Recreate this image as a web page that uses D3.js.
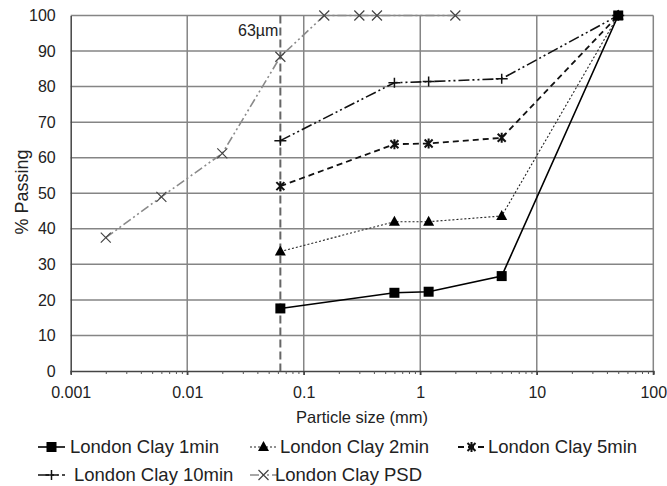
<!DOCTYPE html>
<html><head><meta charset="utf-8">
<script src="https://cdn.jsdelivr.net/npm/d3@7"></script>
<style>
html,body{margin:0;padding:0;background:#fff;}
svg{display:block;font-family:"Liberation Sans",Arial,sans-serif;}
</style></head>
<body><svg id="c" width="667" height="486"></svg>
<script>
const sizes = [0.063, 0.6, 1.18, 5, 50];
const clay1 = [17.6, 22, 22.3, 26.7, 100];
const clay2 = [33.6, 42, 42, 43.6, 100];
const clay5 = [52, 63.8, 64, 65.6, 100];
const clay10 = [64.8, 81.1, 81.4, 82.2, 100];
const psdSizes = [0.002, 0.006, 0.02, 0.063, 0.15, 0.3, 0.425, 2];
const psd = [37.5, 49, 61.2, 88.4, 100, 100, 100, 100];
const xTicks = [0.001, 0.01, 0.1, 1, 10, 100];
const yTicks = [0, 10, 20, 30, 40, 50, 60, 70, 80, 90, 100];
const seriesNames = ["London Clay 1min", "London Clay 2min", "London Clay 5min", "London Clay 10min", "London Clay PSD"];
const cutoffSize = 0.063;
const cutoffLabel = "63µm";

const svg = d3.select("#c");
const L = 70.7, R = 653.3, T = 15.5, B = 371;
const x = d3.scaleLog().domain([0.001, 100]).range([L, R]);
const y = d3.scaleLinear().domain([0, 100]).range([B, T]);

const gridCol = "#858585";
svg.append("g").selectAll("line").data(yTicks.filter(d => d > 0)).join("line")
  .attr("x1", L).attr("x2", R).attr("y1", d => y(d)).attr("y2", d => y(d))
  .attr("stroke", gridCol).attr("stroke-width", 1.5);
svg.append("g").selectAll("line").data(xTicks.slice(1)).join("line")
  .attr("x1", d => x(d)).attr("x2", d => x(d)).attr("y1", T).attr("y2", B + 4)
  .attr("stroke", gridCol).attr("stroke-width", 1.5);

const minor = [];
for (let e = -3; e < 2; e++) for (let m = 2; m <= 9; m++) minor.push(m * Math.pow(10, e));
const xAxis = d3.axisBottom(x).tickValues(minor).tickSize(3).tickFormat("");
const gx = svg.append("g").attr("transform", `translate(0,${B})`).call(xAxis);
gx.select(".domain").attr("stroke", "#444").attr("stroke-width", 1.5);
gx.selectAll(".tick line").attr("stroke", "#555").attr("stroke-width", 1);
const xMaj = d3.axisBottom(x).tickValues(xTicks).tickSize(4).tickFormat(d => String(d));
const gx2 = svg.append("g").attr("transform", `translate(0,${B})`).call(xMaj);
gx2.select(".domain").remove();
gx2.selectAll(".tick line").attr("stroke", "#444").attr("stroke-width", 1.5);
gx2.selectAll(".tick text").attr("font-size", 16).attr("fill", "#222")
  .attr("font-family", "Liberation Sans, Arial, sans-serif").attr("y", 27).attr("dy", 0);

const yAxis = d3.axisLeft(y).tickValues(yTicks).tickSize(0).tickPadding(15);
const gy = svg.append("g").attr("transform", `translate(${L},0)`).call(yAxis);
gy.select(".domain").attr("stroke", "#444").attr("stroke-width", 1.5);
gy.selectAll(".tick text").attr("font-size", 16).attr("fill", "#222").attr("font-family", "Liberation Sans, Arial, sans-serif");

svg.append("text").attr("x", 362).attr("y", 423).attr("text-anchor", "middle")
  .attr("font-size", 16.5).attr("fill", "#222")
  .text("Particle size (mm)");
svg.append("text").attr("transform", "translate(28,192) rotate(-90)").attr("text-anchor", "middle")
  .attr("font-size", 18).attr("fill", "#222").text("% Passing");

svg.append("line").attr("x1", x(cutoffSize)).attr("x2", x(cutoffSize)).attr("y1", y(100)).attr("y2", y(0))
  .attr("stroke", "#666").attr("stroke-width", 2).attr("stroke-dasharray", "8,4");
svg.append("text").attr("x", x(cutoffSize) - 2).attr("y", 36).attr("text-anchor", "end")
  .attr("font-size", 16).attr("fill", "#222").text(cutoffLabel);

const series = [
  {name: seriesNames[4], xs: psdSizes, ys: psd, color: "#8a8a8a", dash: "9,3,2,3,2,3", w: 1.6, marker: "x", mcol: "#444"},
  {name: seriesNames[3], xs: sizes, ys: clay10, color: "#111", dash: "11,3,2,3,2,3", w: 1.6, marker: "plus", mcol: "#111"},
  {name: seriesNames[2], xs: sizes, ys: clay5, color: "#111", dash: "6,4", w: 1.8, marker: "star", mcol: "#111"},
  {name: seriesNames[1], xs: sizes, ys: clay2, color: "#222", dash: "2,2", w: 1.1, marker: "tri", mcol: "#000"},
  {name: seriesNames[0], xs: sizes, ys: clay1, color: "#000", dash: null, w: 1.6, marker: "sq", mcol: "#000"}
];

function drawMarker(g, type, col) {
  if (type === "sq") {
    g.append("rect").attr("x", -5).attr("y", -5).attr("width", 10).attr("height", 10).attr("fill", col);
  } else if (type === "tri") {
    g.append("path").attr("d", "M0,-6 L5.5,4 L-5.5,4 Z").attr("fill", col);
  } else if (type === "star") {
    g.append("path").attr("d", "M-4,-4L4,4M-4,4L4,-4M0,-5L0,5").attr("stroke", col).attr("stroke-width", 2);
  } else if (type === "plus") {
    g.append("path").attr("d", "M-6,0L6,0M0,-5L0,5").attr("stroke", col).attr("stroke-width", 1.5);
  } else if (type === "x") {
    g.append("path").attr("d", "M-5,-5L5,5M-5,5L5,-5").attr("stroke", col).attr("stroke-width", 1.2);
  }
}

const line = d3.line().x(d => x(d[0])).y(d => y(d[1]));
series.forEach(s => {
  const pts = s.xs.map((v, i) => [v, s.ys[i]]);
  const g = svg.append("g");
  g.append("path").attr("d", line(pts)).attr("fill", "none").attr("stroke", s.color)
    .attr("stroke-width", s.w).attr("stroke-dasharray", s.dash);
  pts.forEach(p => {
    const mg = g.append("g").attr("transform", `translate(${x(p[0])},${y(p[1])})`);
    drawMarker(mg, s.marker, s.mcol);
  });
});

const legendOrder = [4, 3, 2, 1, 0];
const legendPos = [[38, 447, 70], [250, 447, 280], [458, 447, 488], [38, 475, 74], [250, 475, 275]];
legendOrder.forEach((si, k) => {
  const s = series[si];
  const [lx, ly, tx] = legendPos[k];
  const g = svg.append("g");
  g.append("line").attr("x1", lx).attr("x2", lx + 27).attr("y1", ly).attr("y2", ly)
    .attr("stroke", s.color).attr("stroke-width", s.w).attr("stroke-dasharray", s.dash);
  const mg = g.append("g").attr("transform", `translate(${lx + 13.5},${ly})`);
  drawMarker(mg, s.marker, s.mcol);
  g.append("text").attr("x", tx).attr("y", ly).attr("dy", "0.35em")
    .attr("font-size", 18.5).attr("fill", "#222").text(s.name);
});
</script></body></html>
